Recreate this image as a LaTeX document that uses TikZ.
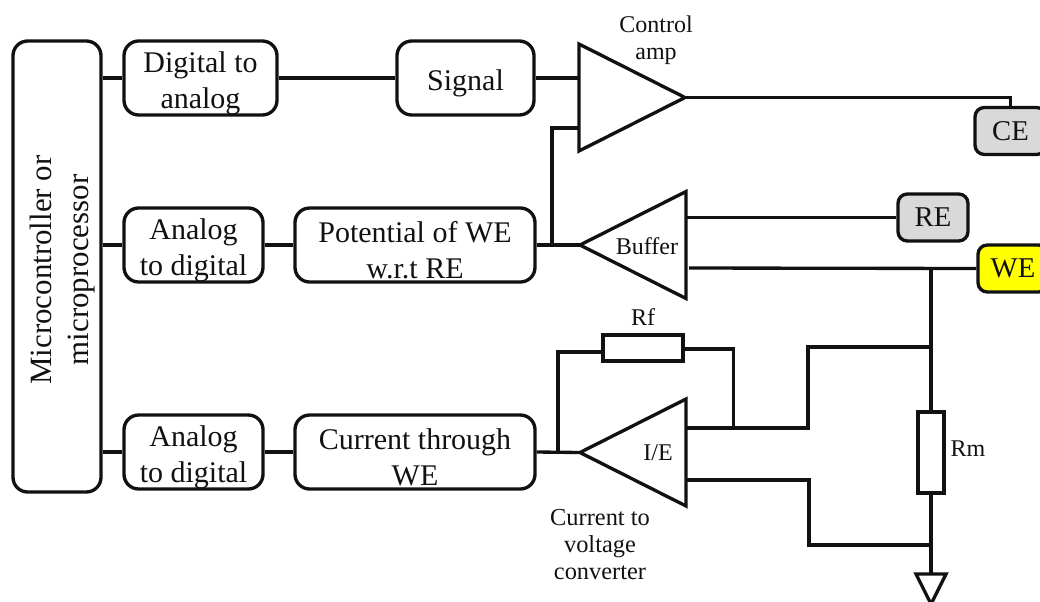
\documentclass[tikz,border=0pt]{standalone}
\usepackage{fontspec}
\setmainfont{Liberation Serif}
\usetikzlibrary{shapes.geometric}
\definecolor{inktc}{HTML}{111111}
\definecolor{greyc}{HTML}{D9D9D9}
\definecolor{yelc}{HTML}{FFFF00}
\newcommand{\tstrut}{\rule{0pt}{23pt}}
\tikzset{
  wh/.style 2 args={minimum width=#1*0.75pt,minimum height=#2*0.75pt},
  wire/.style={draw=inktc,line width=2.5pt,line join=miter},
  blockbox/.style={draw=inktc,line width=2.5pt,rounded corners=11pt,inner sep=0pt,align=center,text=inktc,
    font=\fontsize{22.5}{27}\selectfont},
  termbox/.style={blockbox,rounded corners=7pt,font=\fontsize{21.5}{24}\selectfont},
  resbox/.style={draw=inktc,line width=2.5pt,inner sep=0pt},
  ampbox/.style={isosceles triangle,isosceles triangle stretches,draw=inktc,line width=2.5pt,inner sep=0pt,outer sep=0pt,anchor=apex,wh={107}{106}},
  smalltext/.style={inner sep=0pt,align=center,text=inktc,font=\fontsize{18}{20.2}\selectfont},
}
\begin{document}
\begin{tikzpicture}[x=0.75pt,y=-0.75pt]
\useasboundingbox (0,0) rectangle (1040,601);
\clip (0,0) rectangle (1040,601);
% blocks
\node[blockbox,wh={88}{451}] (micro) at (57,266.5) {};
\node[inner sep=0pt,align=center,text=inktc,rotate=90,font=\fontsize{23.2}{27.7}\selectfont] (microtext) at (63,270) {Microcontroller or\\microprocessor};
\node[blockbox,wh={153}{74}] (dac) at (200.5,78) {\tstrut Digital to\\analog};
\node[blockbox,wh={137}{74}] (signal) at (465.5,78) {\tstrut Signal};
\node[blockbox,wh={139}{74}] (adc1) at (193.5,245) {\tstrut Analog\\to digital};
\node[blockbox,wh={240}{74}] (pot) at (415,245) {\tstrut Potential of WE\\w.r.t RE};
\node[blockbox,wh={139}{74}] (adc2) at (193.5,452) {\tstrut Analog\\to digital};
\node[blockbox,wh={240}{74}] (cur) at (415,452) {\tstrut Current through\\WE};
% amplifiers
\node[ampbox] (amp) at (685,97.5) {};
\node[ampbox,shape border rotate=180] (buf) at (580,245) {};
\node[ampbox,shape border rotate=180] (ie) at (580,452.5) {};
% terminals
\node[termbox,wh={71}{47},fill=greyc] (ce) at (1010.5,131) {CE};
\node[termbox,wh={70}{47},fill=greyc] (re) at (933,217.5) {RE};
\node[termbox,wh={70}{47},fill=yelc] (we) at (1013,268.5) {WE};
% resistors
\node[resbox,wh={80}{26}] (rf) at (643,348) {};
\node[resbox,wh={26}{81}] (rm) at (931,452.5) {};
\node[isosceles triangle,isosceles triangle stretches,shape border rotate=270,draw=inktc,line width=2.5pt,inner sep=0pt,outer sep=0pt,wh={30}{30},anchor=lower side] (gnd) at (931,574) {};
% helper points
\coordinate (ampinA) at (579,78);
\coordinate (ampinB) at (579,128);
\coordinate (tapB) at (552,245);
\coordinate (reout) at (686,217.5);
\coordinate (weout) at (689,268);
\coordinate (tapW) at (931,268);
\coordinate (ieoutA) at (686,428);
\coordinate (ieoutB) at (687,480);
\coordinate (tapF) at (558,452);
\coordinate (tapO) at (733.5,428);
% labels
\node[smalltext] (lctrl) at (656,40.5) {Control\\amp};
\node[smalltext] (lbuf) at (647,246) {Buffer};
\node[smalltext] (lie) at (658,453) {I/E};
\node[smalltext] (lrf) at (643,317) {Rf};
\node[smalltext] (lrm) at (968,449) {Rm};
\node[smalltext,font=\fontsize{18.3}{20.2}\selectfont] (lconv) at (600,544.5) {Current to\\voltage\\converter};
% connectors
\draw[wire] (micro.east |- dac.west) -- (dac.west);
\draw[wire] (micro.east |- adc1.west) -- (adc1.west);
\draw[wire] (micro.east |- adc2.west) -- (adc2.west);
\draw[wire] (adc1.east) -- (pot.west);
\draw[wire] (adc2.east) -- (cur.west);
\draw[wire] (dac.east) -- (signal.west);
\draw[wire] (signal.east) -- (ampinA);
\draw[wire] (pot.east) -- (buf.apex);
\draw[wire] (cur.east) -- (ie.apex);
\draw[wire] (tapB) -- (tapB |- ampinB) -- (ampinB);
\draw[wire] (amp.apex) -| (ce.north);
\draw[wire] (reout) -- (re.west);
\draw[wire] (weout) -- (we.west);
\draw[wire] (tapW) -- (rm.north);
\draw[wire] (rm.south) -- (gnd.lower side);
\draw[wire] (tapF) -- (558,352) -- (rf.west |- 0,352);
\draw[wire] (rf.east |- 0,349) -- (733.5,349) -- (tapO);
\draw[wire] (ieoutA) -- (808,428) -- (808,347) -- (931,347);
\draw[wire] (ieoutB) -- (809,480) -- (809,545) -- (931,545);
\end{tikzpicture}
\end{document}
